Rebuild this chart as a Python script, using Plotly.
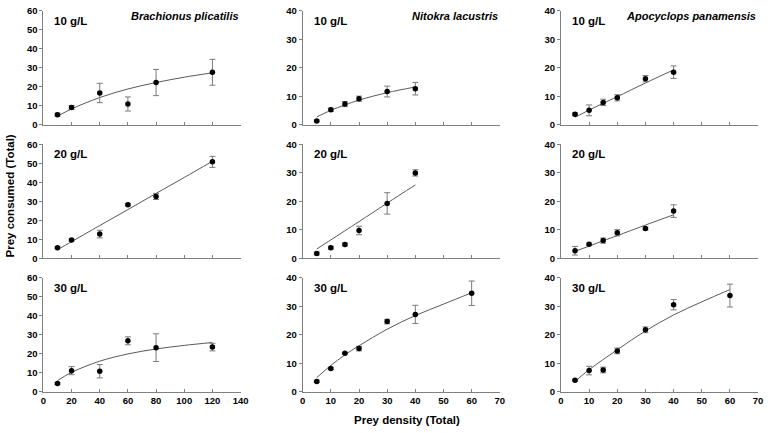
import plotly.graph_objects as go

W, H = 773, 433

# ---------------- data ----------------
bp_x = [10, 20, 40, 60, 80, 120]
bp10_y = [5.4, 9.2, 16.8, 11.0, 22.3, 27.7]
bp10_e = [0.8, 1.0, 5.1, 3.7, 6.9, 6.8]
bp20_y = [5.6, 9.7, 12.8, 28.3, 32.6, 50.8]
bp20_e = [0.5, 0.5, 2.0, 0.6, 1.6, 2.9]
bp30_y = [4.4, 11.2, 10.9, 26.9, 23.3, 23.6]
bp30_e = [0.5, 2.1, 3.5, 2.1, 7.3, 2.0]
bp_fit_x = [10, 20, 40, 60, 80, 100, 120]
bp10_fit = [4.6, 8.4, 14.4, 18.9, 22.3, 25.1, 27.4]
bp20_fit = [4.6, 8.8, 17.3, 25.7, 34.2, 42.6, 51.1]
bp30_fit = [6.0, 10.3, 16.2, 20.0, 22.6, 24.5, 26.0]

nl_x = [5, 10, 15, 20, 30, 40]
nl10_y = [1.4, 5.3, 7.3, 9.2, 11.7, 12.7]
nl10_e = [0.3, 0.6, 0.9, 0.9, 1.9, 2.2]
nl10_fit = [2.8, 5.1, 7.0, 8.7, 11.3, 13.3]
nl20_y = [1.7, 3.75, 4.9, 9.8, 19.3, 30.0]
nl20_e = [0.5, 0.5, 0.5, 1.5, 3.75, 1.1]
nl20_fit = [3.3, 6.5, 9.7, 12.9, 19.4, 25.8]
nl30_x = [5, 10, 15, 20, 30, 40, 60]
nl30_y = [3.7, 8.2, 13.6, 15.2, 24.7, 27.2, 34.6]
nl30_e = [0.4, 0.4, 0.3, 0.8, 0.8, 3.2, 4.3]
nl30_fit_x = [5, 10, 15, 20, 30, 40, 50, 60]
nl30_fit = [5.0, 9.3, 13.0, 16.2, 22.0, 26.8, 30.8, 34.8]

ap_x = [5, 10, 15, 20, 30, 40]
ap10_y = [3.7, 5.1, 7.9, 9.5, 16.2, 18.5]
ap10_e = [0.5, 1.9, 1.1, 1.1, 1.1, 2.2]
ap10_fit = [2.7, 5.2, 7.6, 9.9, 14.7, 19.3]
ap20_y = [2.7, 5.0, 6.25, 9.0, 10.5, 16.6]
ap20_e = [1.5, 0.4, 0.9, 1.1, 0.5, 2.2]
ap20_fit = [2.5, 4.3, 6.2, 8.0, 11.7, 15.3]
ap30_x = [5, 10, 15, 20, 30, 40, 60]
ap30_y = [4.1, 7.5, 7.7, 14.4, 21.8, 30.6, 33.8]
ap30_e = [0.3, 1.5, 1.0, 1.0, 1.0, 1.8, 4.0]
ap30_fit_x = [5, 10, 20, 30, 40, 50, 60]
ap30_fit = [3.7, 7.8, 14.8, 21.4, 27.0, 31.6, 35.9]

species = ["Brachionus plicatilis", "Nitokra lacustris", "Apocyclops panamensis"]
conc_labels = ["10 g/L", "20 g/L", "30 g/L"]
x_ranges = [[0, 140], [0, 70], [0, 70]]
x_dticks = [20, 10, 10]
y_ranges = [[0, 60], [0, 40], [0, 40]]
x_title = "Prey density (Total)"
y_title = "Prey consumed (Total)"

panels = {
    (0, 0): (bp_x, bp10_y, bp10_e, bp_fit_x, bp10_fit),
    (1, 0): (bp_x, bp20_y, bp20_e, bp_fit_x, bp20_fit),
    (2, 0): (bp_x, bp30_y, bp30_e, bp_fit_x, bp30_fit),
    (0, 1): (nl_x, nl10_y, nl10_e, nl_x, nl10_fit),
    (1, 1): (nl_x, nl20_y, nl20_e, nl_x, nl20_fit),
    (2, 1): (nl30_x, nl30_y, nl30_e, nl30_fit_x, nl30_fit),
    (0, 2): (ap_x, ap10_y, ap10_e, ap_x, ap10_fit),
    (1, 2): (ap_x, ap20_y, ap20_e, ap_x, ap20_fit),
    (2, 2): (ap30_x, ap30_y, ap30_e, ap30_fit_x, ap30_fit),
}

# ---------------- layout geometry (pixels) ----------------
col_left = [41, 304, 566]
col_w = 200
row_top = [5, 142, 279]
row_h = 117

FONT = "Liberation Sans, Arial, sans-serif"
AXC = "#808080"

fig = go.Figure()
layout = dict(
    width=W, height=H, margin=dict(l=0, r=0, t=0, b=0),
    paper_bgcolor="white", plot_bgcolor="white", showlegend=False,
    font=dict(family=FONT, color="black"),
)
annotations = []

for r in range(3):
    for c in range(3):
        idx = r * 3 + c + 1
        xa = "x" if idx == 1 else f"x{idx}"
        ya = "y" if idx == 1 else f"y{idx}"
        x, y, e, fx, fy = panels[(r, c)]
        fig.add_trace(go.Scatter(
            x=fx, y=fy, mode="lines", line=dict(color="#5a5a5a", width=1, shape="spline"),
            xaxis=xa, yaxis=ya, hoverinfo="skip"))
        fig.add_trace(go.Scatter(
            x=x, y=y, mode="markers",
            marker=dict(color="black", size=5.5, symbol="circle"),
            error_y=dict(type="data", array=e, visible=True, color="#7a7a7a", thickness=1, width=3),
            xaxis=xa, yaxis=ya, cliponaxis=False))
        x0 = col_left[c] / W
        x1 = (col_left[c] + col_w) / W
        y1 = 1 - row_top[r] / H
        y0 = 1 - (row_top[r] + row_h) / H
        layout["xaxis" if idx == 1 else f"xaxis{idx}"] = dict(
            domain=[x0, x1], range=x_ranges[c], dtick=x_dticks[c], tick0=0,
            anchor=ya, showgrid=False, zeroline=False, showline=True,
            linecolor=AXC, linewidth=1, ticks="inside", ticklen=3, tickcolor=AXC,
            showticklabels=(r == 2),
            tickfont=dict(size=9.5, family=FONT, color="black", weight="bold"),
        )
        layout["yaxis" if idx == 1 else f"yaxis{idx}"] = dict(
            domain=[y0, y1], range=y_ranges[c], dtick=10, tick0=0,
            anchor=xa, showgrid=False, zeroline=False, showline=True,
            linecolor=AXC, linewidth=1, ticks="outside", ticklen=3, tickcolor=AXC,
            tickfont=dict(size=9.5, family=FONT, color="black", weight="bold"),
        )
        # concentration label
        annotations.append(dict(
            text=f"<b>{conc_labels[r]}</b>", xref="paper", yref="paper",
            x=(col_left[c] + 9) / W, y=1 - (row_top[r] + 10) / H,
            xanchor="left", yanchor="middle", showarrow=False,
            font=dict(size=11.5, family=FONT, color="black")))
        if r == 0:
            annotations.append(dict(
                text=f"<b><i>{species[c]}</i></b>", xref="paper", yref="paper",
                x=(col_left[c] + col_w) / W, y=1 - (row_top[r] + 5) / H,
                xanchor="right", yanchor="middle", showarrow=False,
                font=dict(size=11, family=FONT, color="black")))

annotations.append(dict(
    text=f"<b>{x_title}</b>", xref="paper", yref="paper",
    x=410 / W, y=1 - 425 / H, xanchor="center", yanchor="middle", showarrow=False,
    font=dict(size=11.5, family=FONT, color="black")))
annotations.append(dict(
    text=f"<b>{y_title}</b>", xref="paper", yref="paper",
    x=7.5 / W, y=1 - 195 / H, xanchor="center", yanchor="middle", showarrow=False,
    textangle=-90, font=dict(size=11.5, family=FONT, color="black")))

layout["annotations"] = annotations
fig.update_layout(**layout)
fig.write_html("out.html")
